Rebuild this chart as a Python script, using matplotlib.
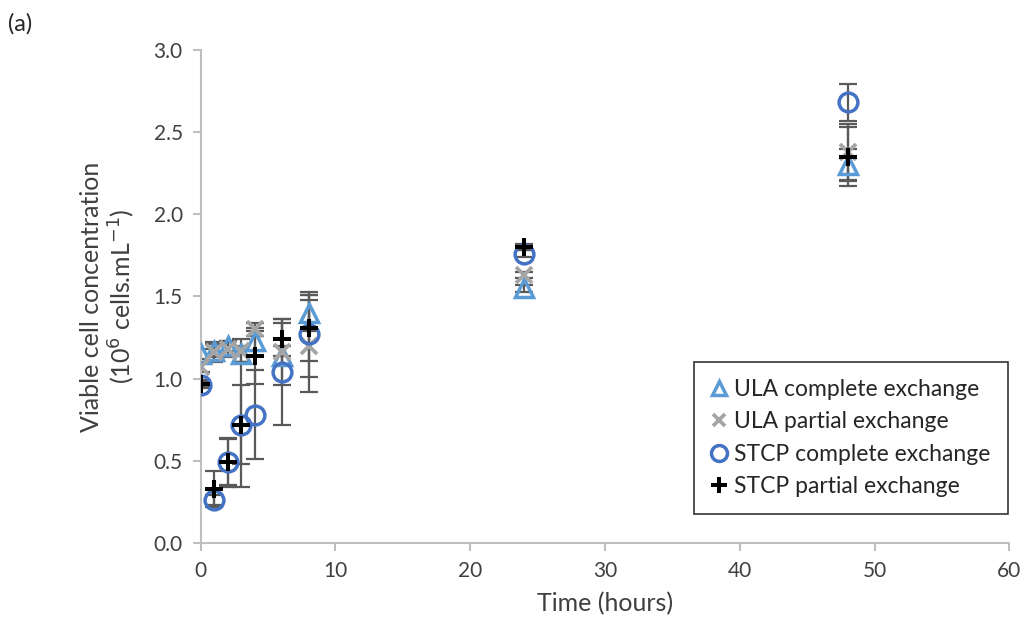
"""Viable cell concentration over time for ULA and STCP culture exchanges."""

import matplotlib
matplotlib.use("Agg")
import matplotlib.pyplot as plt

plt.rcParams["font.family"] = ["Lato", "DejaVu Sans"]

time_h = [0, 1, 2, 3, 4, 6, 8, 24, 48]

ula_complete = [1.15, 1.17, 1.20, 1.15, 1.23, 1.14, 1.40, 1.55, 2.30]
ula_complete_err = [0.03, 0.04, 0.03, 0.05, 0.06, 0.06, 0.11, 0.02, 0.10]

ula_partial = [1.07, 1.16, 1.18, 1.17, 1.30, 1.16, 1.20, 1.63, 2.38]
ula_partial_err = [0.03, 0.06, 0.05, 0.07, 0.04, 0.20, 0.28, 0.02, 0.17]

stcp_complete = [0.96, 0.26, 0.49, 0.72, 0.78, 1.04, 1.27, 1.76, 2.68]
stcp_complete_err = [0.02, 0.03, 0.15, 0.38, 0.27, 0.32, 0.26, 0.02, 0.11]

stcp_partial = [0.97, 0.33, 0.49, 0.72, 1.14, 1.24, 1.31, 1.80, 2.35]
stcp_partial_err = [0.02, 0.11, 0.14, 0.24, 0.17, 0.10, 0.20, 0.02, 0.18]

series = [
    ("ULA complete exchange", ula_complete, ula_complete_err,
     dict(marker="^", ms=12.5, mfc="none", mec="#5B9BD5", mew=2.5)),
    ("ULA partial exchange", ula_partial, ula_partial_err,
     dict(marker="x", ms=11, mec="#A5A5A5", mew=2.7)),
    ("STCP complete exchange", stcp_complete, stcp_complete_err,
     dict(marker="o", ms=13.5, mfc="none", mec="#4472C4", mew=2.5)),
    ("STCP partial exchange", stcp_partial, stcp_partial_err,
     dict(marker="+", ms=13, mec="black", mew=2.9)),
]

fig = plt.figure(figsize=(10.25, 6.33), dpi=100)
ax = fig.add_axes([0.1958, 0.1422, 0.789, 0.779])

err_color = "#595959"
for label, vals, errs, style in series:
    ax.errorbar(time_h, vals, yerr=errs, fmt="none", ecolor=err_color,
                elinewidth=1.6, capsize=6.5, capthick=1.6, zorder=2)

for z, (label, vals, errs, style) in enumerate(series):
    ax.plot(time_h, vals, linestyle="none", label=label, zorder=3 + z, **style)

ax.set_xlim(0, 60)
ax.set_ylim(0, 3.0)
ax.set_xticks(range(0, 61, 10))
ax.set_yticks([0.0, 0.5, 1.0, 1.5, 2.0, 2.5, 3.0])
ax.set_yticklabels([f"{v:.1f}" for v in ax.get_yticks()])

for side in ("top", "right"):
    ax.spines[side].set_visible(False)
for side in ("left", "bottom"):
    ax.spines[side].set_color("#BFBFBF")
    ax.spines[side].set_linewidth(1.5)
ax.tick_params(axis="both", direction="out", length=6, width=1.5,
               color="#BFBFBF", labelsize=15, labelcolor="#404040", pad=7)

ax.set_xlabel("Time (hours)", fontsize=18, color="#404040", labelpad=8)
ax.set_ylabel("Viable cell concentration\n(10$^{6}$ cells.mL$^{-1}$)",
              fontsize=18, color="#404040", labelpad=12, linespacing=1.15)

leg = ax.legend(loc="lower right", bbox_to_anchor=(0.998, 0.058),
                fontsize=16.5, frameon=True, fancybox=False,
                edgecolor="black", handlelength=0.7, handletextpad=0.3,
                borderpad=0.75, labelspacing=0.5, borderaxespad=0,
                markerscale=0.85)
leg.get_frame().set_linewidth(1.2)
for text in leg.get_texts():
    text.set_color("#262626")

fig.text(0.008, 0.952, "(a)", fontsize=17, color="#262626")

fig.savefig("out.png", dpi=100)
